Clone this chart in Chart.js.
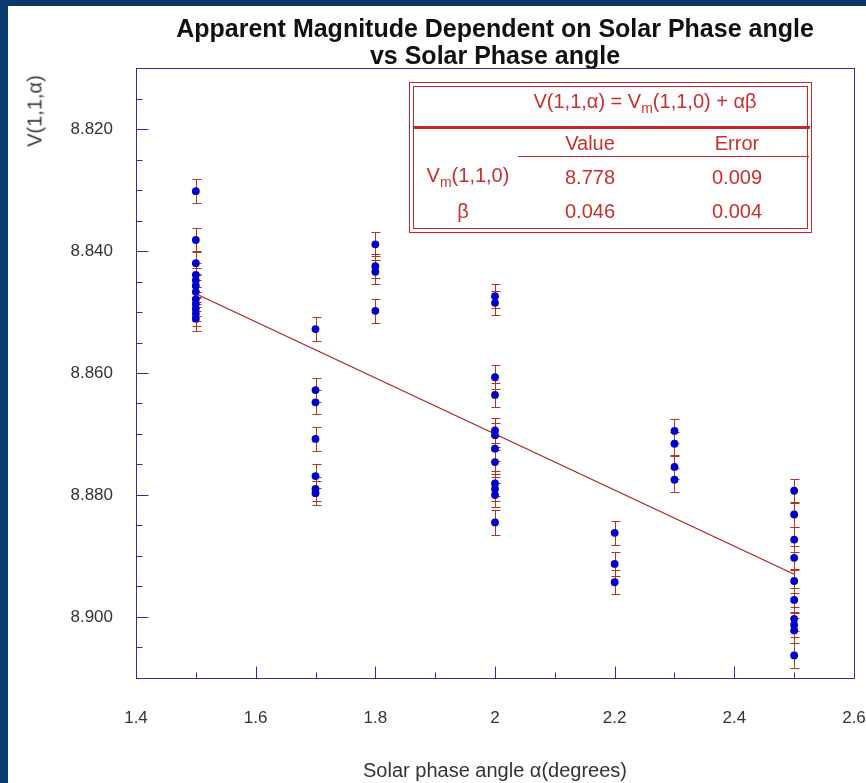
<!DOCTYPE html>
<html>
<head>
<meta charset="utf-8">
<title>Apparent Magnitude vs Solar Phase angle</title>
<script src="https://cdn.jsdelivr.net/npm/chart.js@4.4.1/dist/chart.umd.min.js"></script>
<style>
  html, body { margin: 0; padding: 0; }
  body {
    width: 866px; height: 783px; position: relative; overflow: hidden;
    background: #093a6b; font-family: "Liberation Sans", Arial, sans-serif;
  }
  #panel { position: absolute; left: 8px; top: 6px; width: 858px; height: 777px; background: #fff; }
  #chart { position: absolute; left: 0; top: 0; }
  #y-title {
    position: absolute; left: 35px; top: 111px; white-space: nowrap;
    transform: translate(-50%, -50%) rotate(-90deg); font-size: 20px; color: #3a3a3a;
  }
  #fit-box { position: absolute; left: 409px; top: 82px; width: 401px; height: 149px; border: 1px solid #c3272b; }
  #fit-inner { position: absolute; left: 3px; top: 3px; right: 3px; bottom: 3px; border: 1px solid #c3272b; }
  .rule { position: absolute; background: #c3272b; }
  .cell {
    position: absolute; transform: translate(-50%, -50%); white-space: nowrap;
    color: #c8302e; font-size: 20px;
  }
  .cell sub { font-size: 14px; }
</style>
</head>
<body>
<div id="panel"><canvas id="chart" width="858" height="777"></canvas></div>
<div id="y-title">V(1,1,&alpha;)</div>
<div id="fit-box"><div id="fit-inner"></div></div>
<div id="fit-cells"></div>

<script>
// phase angles (degrees) and the measured magnitudes at each of them
const phaseAngles = [1.5, 1.7, 1.8, 2.0, 2.2, 2.3, 2.5];
const mag150 = [8.8302, 8.8382, 8.842, 8.8439, 8.8448, 8.8457, 8.8467, 8.8479, 8.8487, 8.8495, 8.8503, 8.8511];
const mag170 = [8.8528, 8.8628, 8.8648, 8.8708, 8.8769, 8.879, 8.8797];
const mag180 = [8.8389, 8.8425, 8.8434, 8.8498];
const mag200 = [8.8474, 8.8485, 8.8607, 8.8636, 8.8694, 8.8702, 8.8724, 8.8746, 8.8781, 8.879, 8.88, 8.8845];
const mag220 = [8.8862, 8.8913, 8.8943];
const mag230 = [8.8695, 8.8716, 8.8754, 8.8775];
const mag250 = [8.8793, 8.8832, 8.8873, 8.8903, 8.8941, 8.8972, 8.9003, 8.9013, 8.9022, 8.9063];
const magnitudeGroups = [mag150, mag170, mag180, mag200, mag220, mag230, mag250];
const magErrors = [0.002, 0.002, 0.002, 0.002, 0.002, 0.002, 0.002];

// fitted line V = Vm + alpha*beta, end points
const fitAngles = [1.5, 2.5];
const fitMagnitudes = [8.847, 8.893];

// fit result table
const paramNames = ["V<sub>m</sub>(1,1,0)", "&beta;"];
const paramValues = ["8.778", "0.046"];
const paramErrors = ["0.009", "0.004"];

const yMajorStep = 0.02;
const xMajorStep = 0.2;

function isMajor(v, step) {
  const r = v / step;
  return Math.abs(r - Math.round(r)) < 1e-6;
}

function buildPoints() {
  const pts = [];
  phaseAngles.forEach((a, i) => {
    magnitudeGroups[i].forEach((m) => pts.push({ x: a, y: m, err: magErrors[i] }));
  });
  return pts;
}

function addCell(html, cx, cy) {
  const el = document.createElement("div");
  el.className = "cell";
  el.style.left = cx + "px";
  el.style.top = cy + "px";
  el.innerHTML = html;
  document.getElementById("fit-cells").appendChild(el);
}

function addRule(left, top, width, height) {
  const el = document.createElement("div");
  el.className = "rule";
  el.style.cssText = `left:${left}px;top:${top}px;width:${width}px;height:${height}px`;
  document.getElementById("fit-cells").appendChild(el);
}

function buildFitTable() {
  addCell("V(1,1,&alpha;) = V<sub>m</sub>(1,1,0) + &alpha;&beta;", 645, 103);
  addRule(413, 126, 397, 3);
  addCell("Value", 590, 143);
  addCell("Error", 737, 143);
  addRule(518, 156, 291, 1);
  paramNames.forEach((n, i) => {
    const cy = 177 + i * 34;
    addCell(n, i === 0 ? 468 : 463, cy);
    addCell(paramValues[i], 590, cy);
    addCell(paramErrors[i], 737, cy);
  });
}

// error bars under the points
const errorBarPlugin = {
  id: "errorBars",
  beforeDatasetsDraw(chart) {
    const { ctx, scales } = chart;
    ctx.save();
    ctx.strokeStyle = "#b8321a";
    ctx.lineWidth = 1;
    chart.data.datasets[0].data.forEach((p) => {
      const px = Math.round(scales.x.getPixelForValue(p.x)) + 0.5;
      const top = Math.round(scales.y.getPixelForValue(p.y - p.err)) + 0.5;
      const bot = Math.round(scales.y.getPixelForValue(p.y + p.err)) + 0.5;
      ctx.beginPath();
      ctx.moveTo(px, top);
      ctx.lineTo(px, bot);
      ctx.moveTo(px - 4, top);
      ctx.lineTo(px + 5, top);
      ctx.moveTo(px - 4, bot);
      ctx.lineTo(px + 5, bot);
      ctx.stroke();
    });
    ctx.restore();
  },
};

// plot frame with inward tick marks
const framePlugin = {
  id: "frame",
  afterDatasetsDraw(chart) {
    const { ctx, chartArea: a, scales } = chart;
    ctx.save();
    ctx.strokeStyle = "#2e2e9e";
    ctx.lineWidth = 1;
    const l = Math.round(a.left) + 0.5, r = Math.round(a.right) + 0.5;
    const t = Math.round(a.top) + 0.5, b = Math.round(a.bottom) + 0.5;
    ctx.strokeRect(l, t, r - l, b - t);
    ctx.beginPath();
    scales.x.ticks.forEach((tk) => {
      const px = Math.round(scales.x.getPixelForValue(tk.value)) + 0.5;
      const len = isMajor(tk.value, xMajorStep) ? 12 : 6;
      ctx.moveTo(px, b);
      ctx.lineTo(px, b - len);
    });
    scales.y.ticks.forEach((tk) => {
      const py = Math.round(scales.y.getPixelForValue(tk.value)) + 0.5;
      const len = isMajor(tk.value, yMajorStep) ? 12 : 6;
      ctx.moveTo(l, py);
      ctx.lineTo(l + len, py);
    });
    ctx.stroke();
    ctx.restore();
  },
};

document.addEventListener("DOMContentLoaded", () => {
  buildFitTable();

  const fitLine = fitAngles.map((a, i) => ({ x: a, y: fitMagnitudes[i] }));

  new Chart(document.getElementById("chart").getContext("2d"), {
    type: "scatter",
    data: {
      datasets: [
        {
          data: buildPoints(),
          backgroundColor: "#0000c8",
          borderWidth: 0,
          pointRadius: 3.9,
        },
        {
          type: "line",
          data: fitLine,
          borderColor: "#b51c1c",
          borderWidth: 1.2,
          pointRadius: 0,
          fill: false,
        },
      ],
    },
    options: {
      responsive: false,
      animation: false,
      devicePixelRatio: 1,
      layout: { padding: 0 },
      plugins: {
        legend: { display: false },
        tooltip: { enabled: false },
        title: {
          display: true,
          fullSize: false,
          text: ["Apparent Magnitude Dependent on Solar Phase angle", "vs Solar Phase angle"],
          color: "#111",
          font: { family: "Liberation Sans", size: 25, weight: "bold", lineHeight: "26.5px" },
          padding: { top: 11, bottom: -2 },
        },
      },
      scales: {
        x: {
          type: "linear",
          min: 1.4,
          max: 2.6,
          grid: { display: false, drawTicks: false },
          border: { display: false },
          ticks: {
            stepSize: 0.1,
            autoSkip: false,
            maxRotation: 0,
            padding: 30,
            color: "#333",
            font: { family: "Liberation Sans", size: 17 },
            callback: (v) => (isMajor(v, xMajorStep) ? String(parseFloat(v.toFixed(1))) : ""),
          },
          title: {
            display: true,
            text: "Solar phase angle \u03b1(degrees)",
            color: "#333",
            font: { family: "Liberation Sans", size: 20 },
            padding: { top: 0, bottom: 0 },
          },
          afterFit: (s) => {
            s.height = 105;
            s.paddingRight = 12;
          },
        },
        y: {
          type: "linear",
          reverse: true,
          min: 8.81,
          max: 8.91,
          grid: { display: false, drawTicks: false },
          border: { display: false },
          ticks: {
            stepSize: 0.005,
            autoSkip: false,
            padding: 23,
            color: "#333",
            font: { family: "Liberation Sans", size: 17 },
            callback: (v) => (isMajor(v, yMajorStep) ? v.toFixed(3) : ""),
          },
          afterFit: (s) => { s.width = 128; },
        },
      },
    },
    plugins: [errorBarPlugin, framePlugin],
  });
});
</script>
</body>
</html>
